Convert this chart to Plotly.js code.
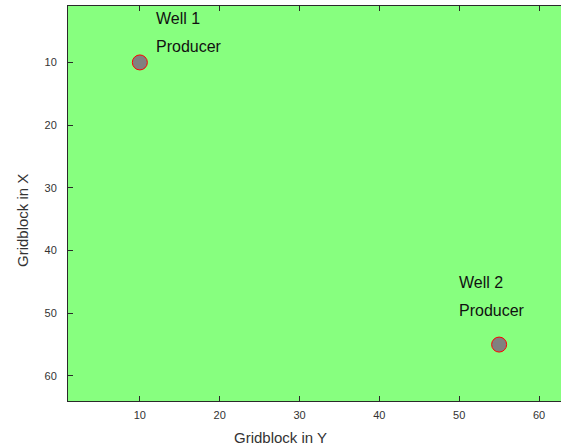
<!DOCTYPE html>
<html>
<head>
<meta charset="utf-8">
<script src="https://cdn.plot.ly/plotly-3.0.1.min.js"></script>
<style>
  html, body { margin: 0; padding: 0; background: #fff; overflow: hidden; }
  #chart { width: 561px; height: 448px; }
</style>
</head>
<body>
<div id="chart"></div>
<script>
// Well locations on the 64 x 64 grid (column = gridblock in Y, row = gridblock in X)
const wellNames = ['Well 1', 'Well 2'];
const wellTypes = ['Producer', 'Producer'];
const wellGridY = [10, 55];
const wellGridX = [10, 55];

// Label placement relative to each well marker, in pixels
const labelOffsets = [
  { dx: 14, nameDy: 43.5, typeDy: 16 },
  { dx: -42, nameDy: 62, typeDy: 34 }
];

const wells = {
  type: 'scatter',
  mode: 'markers',
  x: wellGridY,
  y: wellGridX,
  text: wellNames,
  hoverinfo: 'text',
  marker: {
    size: 15,
    color: '#808080',
    line: { color: '#ff0000', width: 1 }
  },
  showlegend: false
};

const textFont = { family: 'Liberation Sans, Arial, sans-serif', size: 16, color: '#111' };
const annotations = [];
wellNames.forEach((name, i) => {
  const off = labelOffsets[i];
  annotations.push({
    x: wellGridY[i], y: wellGridX[i], xref: 'x', yref: 'y',
    text: name, showarrow: false, xanchor: 'left', yanchor: 'middle',
    xshift: off.dx, yshift: off.nameDy, font: textFont
  });
  annotations.push({
    x: wellGridY[i], y: wellGridX[i], xref: 'x', yref: 'y',
    text: wellTypes[i], showarrow: false, xanchor: 'left', yanchor: 'middle',
    xshift: off.dx, yshift: off.typeDy, font: textFont
  });
});

// Axis titles, centred on the whole figure
const titleFont = { family: 'Liberation Sans, Arial, sans-serif', size: 15, color: '#333' };
annotations.push({
  text: 'Gridblock in Y', xref: 'paper', yref: 'paper',
  x: (280.5 - 68) / (561 - 68), y: 0, yshift: -36,
  xanchor: 'center', yanchor: 'middle', showarrow: false, font: titleFont
});
annotations.push({
  text: 'Gridblock in X', xref: 'paper', yref: 'paper',
  x: 0, xshift: -46, y: 1 - (221 - 6) / 395,
  xanchor: 'center', yanchor: 'middle', textangle: -90, showarrow: false, font: titleFont
});

const axisCommon = {
  showgrid: false,
  zeroline: false,
  showline: true,
  linecolor: '#2a2a2a',
  linewidth: 1,
  ticks: 'inside',
  ticklen: 5,
  tickwidth: 1,
  tickcolor: '#2a2a2a',
  tickvals: [10, 20, 30, 40, 50, 60],
  tickfont: { family: 'Liberation Sans, Arial, sans-serif', size: 11, color: '#333' }
};

const layout = {
  width: 561,
  height: 448,
  margin: { l: 68, r: 0, t: 6, b: 47, pad: 0 },
  paper_bgcolor: '#ffffff',
  plot_bgcolor: '#87ff7f',
  xaxis: Object.assign({}, axisCommon, { range: [1, 62.75], ticklabelstandoff: 4, mirror: 'ticks' }),
  yaxis: Object.assign({}, axisCommon, { range: [64, 1], ticklabelstandoff: 8, mirror: false }),
  annotations: annotations,
  showlegend: false
};

Plotly.newPlot('chart', [wells], layout, { staticPlot: true, displayModeBar: false });
</script>
</body>
</html>
